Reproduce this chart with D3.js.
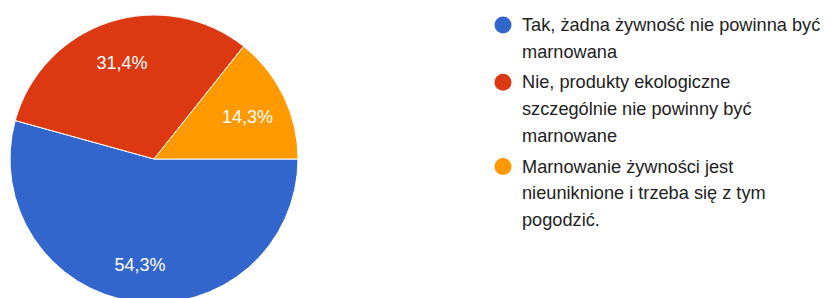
<!DOCTYPE html>
<html>
<head>
<meta charset="utf-8">
<script src="https://cdn.jsdelivr.net/npm/d3@7"></script>
<style>
  body { margin: 0; background: #fff; }
  svg { display: block; font-family: "Liberation Sans", Arial, sans-serif; }
</style>
</head>
<body>
<div class="chart"></div>
<script>
// answers and their share (%)
const categories = [
    ['Tak, żadna żywność nie powinna być', 'marnowana'],
    ['Nie, produkty ekologiczne', 'szczególnie nie powinny być', 'marnowane'],
    ['Marnowanie żywności jest', 'nieuniknione i trzeba się z tym', 'pogodzić.']
];
const values = [54.3, 31.4, 14.3];
const valueLabels = ['54,3%', '31,4%', '14,3%'];
const colors = ['#3366cc', '#dc3912', '#ff9900'];

const width = 838;
const height = 298;
const cx = 154, cy = 159, radius = 144;

const svg = d3.select('.chart')
    .append('svg')
    .attr('width', width)
    .attr('height', height);

const data = values.map((v, i) => ({value: v, label: valueLabels[i], color: colors[i], lines: categories[i]}));

// google style: start at 3 o'clock, go clockwise
const pie = d3.pie()
    .value(d => d.value)
    .sort(null)
    .startAngle(Math.PI / 2)
    .endAngle(Math.PI / 2 + 2 * Math.PI);

const arc = d3.arc().innerRadius(0).outerRadius(radius);
const labelArc = d3.arc().innerRadius(radius * 0.72).outerRadius(radius * 0.72);

const g = svg.append('g')
    .attr('transform', `translate(${cx},${cy})`);

g.selectAll('path')
    .data(pie(data))
    .enter()
    .append('path')
    .attr('d', arc)
    .attr('fill', d => d.data.color)
    .attr('stroke', '#fff')
    .attr('stroke-width', 1);

g.selectAll('.slice-label')
    .data(pie(data))
    .enter()
    .append('text')
    .attr('class', 'slice-label')
    .attr('transform', d => `translate(${labelArc.centroid(d)})`)
    .attr('dy', 3)
    .attr('text-anchor', 'middle')
    .attr('dominant-baseline', 'central')
    .attr('fill', '#fff')
    .style('font-size', '18px')
    .text(d => d.data.label);

// legend
const lineH = 26.9;
const entryGap = 3.5;
let y = 25;
const legend = svg.append('g');
data.forEach((d, i) => {
    const item = legend.append('g');
    item.append('circle')
        .attr('cx', 503)
        .attr('cy', y)
        .attr('r', 8.5)
        .attr('fill', d.color);
    const t = item.append('text')
        .attr('x', 522)
        .attr('y', y)
        .attr('fill', '#222')
        .style('font-size', '18.2px');
    d.lines.forEach((line, j) => {
        t.append('tspan')
            .attr('x', 522)
            .attr('y', y + j * lineH)
            .attr('dominant-baseline', 'central')
            .text(line);
    });
    y += d.lines.length * lineH + entryGap;
});
</script>
</body>
</html>
